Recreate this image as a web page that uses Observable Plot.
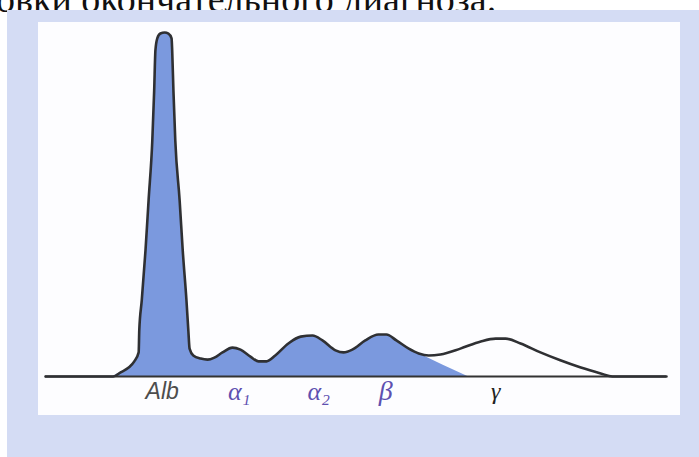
<!DOCTYPE html>
<html>
<head>
<meta charset="utf-8">
<script src="https://cdn.jsdelivr.net/npm/d3@7"></script>
<script src="https://cdn.jsdelivr.net/npm/@observablehq/plot@0.6"></script>
<style>
  html, body { margin: 0; padding: 0; background: #fff; }
  #page { position: relative; width: 699px; height: 457px; overflow: hidden; background: #fff; }
  #caption { position: absolute; left: -4px; top: -20px; font-family: "Liberation Serif", "Times New Roman", serif; font-size: 38px; line-height: 38px; color: #111; white-space: nowrap; }
  #frame { position: absolute; left: 7px; top: 10px; width: 692px; height: 447px; background: #d4dcf4; }
  #panel { position: absolute; left: 38px; top: 22px; width: 642px; height: 393px; background: #fdfdff; }
  #chart { position: absolute; left: 0; top: 0; }
</style>
</head>
<body>
<div id="page">
  <div id="caption">овки окончательного диагноза.</div>
  <div id="frame"></div>
  <div id="panel"></div>
  <div id="chart"></div>
</div>
<script>
// Densitometric trace of serum protein electrophoresis (mobility units, relative density %)
const mobility = [0, 10.9, 12.1, 13.4, 14.3, 15.0, 15.1, 15.5, 16.1, 16.6, 17.2, 17.5, 17.7, 18.0, 18.5, 19.2, 19.8, 20.3, 20.4, 20.6, 20.9, 21.6, 22.1, 22.7, 23.0, 23.2, 23.8, 25.0, 26.1, 27.2, 28.5, 30.1, 31.4, 33.0, 34.3, 35.6, 37.0, 39.1, 41.1, 43.0, 44.6, 46.7, 48.0, 49.4, 51.5, 53.6, 54.9, 56.5, 58.5, 60.1, 61.7, 63.6, 66.8, 70.1, 72.5, 74.1, 76.5, 79.7, 82.9, 86.2, 89.4, 91.3, 100];
const density  = [0, 0, 1.2, 2.6, 4.4, 7.0, 13.4, 22.1, 36.6, 51.2, 68.6, 83.1, 94.8, 98.3, 99.7, 100, 99.7, 98.3, 94.8, 83.1, 68.6, 51.2, 36.6, 22.1, 13.4, 8.1, 6.1, 5.2, 4.9, 5.5, 7.0, 8.4, 7.8, 5.8, 4.4, 4.4, 6.1, 9.6, 11.6, 11.9, 10.5, 7.6, 7.0, 7.8, 10.5, 12.2, 12.2, 10.5, 8.1, 6.7, 6.1, 6.4, 8.1, 10.2, 11.0, 11.0, 9.6, 7.0, 4.7, 2.6, 0.9, 0, 0];

// Shaded (non-gamma) fraction: follows the trace up to the beta trough, then drops to baseline
const fillEndMobility = [68.0];
const fillEndDensity = [0];

// Fraction labels
const fractions = ["Alb", "α₁", "α₂", "β", "γ"];
const fractionPos = [18.8, 31.2, 44.0, 54.8, 72.5];
const fractionColor = ["#4d4d4d", "#5e50b0", "#5e50b0", "#5e50b0", "#222222"];
const fractionFont = ["Liberation Sans, Arial, sans-serif", "Liberation Serif, serif", "Liberation Serif, serif", "Liberation Serif, serif", "Liberation Serif, serif"];
const fractionSize = [23, 26, 26, 28, 24];

const trace = mobility.map((m, i) => ({m, d: density[i]}));
const shaded = trace.filter(p => p.m >= 10.9 && p.m <= 60.1)
  .concat(fillEndMobility.map((m, i) => ({m, d: fillEndDensity[i]})));
const labels = fractions.map((t, i) => ({t, m: fractionPos[i], c: fractionColor[i], f: fractionFont[i], s: fractionSize[i]}));

const chart = Plot.plot({
  width: 699,
  height: 457,
  marginLeft: 45,
  marginRight: 33,
  marginTop: 32,
  marginBottom: 81,
  style: {background: "transparent", overflow: "visible"},
  x: {domain: [0, 100], axis: null},
  y: {domain: [0, 100], axis: null},
  marks: [
    Plot.areaY(shaded, {x: "m", y: "d", fill: "#7b99de", curve: "monotone-x"}),
    Plot.ruleY([0], {stroke: "#333", strokeWidth: 2.2}),
    Plot.lineY(trace, {x: "m", y: "d", stroke: "#2f3033", strokeWidth: 2.6, curve: "monotone-x", strokeLinejoin: "round"}),
    ...labels.map(l => Plot.text([l], {x: "m", y: 0, text: "t", fill: "c", dy: 15, fontSize: l.s, fontStyle: "italic", fontFamily: l.f, lineAnchor: "middle", textAnchor: "middle"}))
  ]
});
document.getElementById("chart").appendChild(chart);
</script>
</body>
</html>
